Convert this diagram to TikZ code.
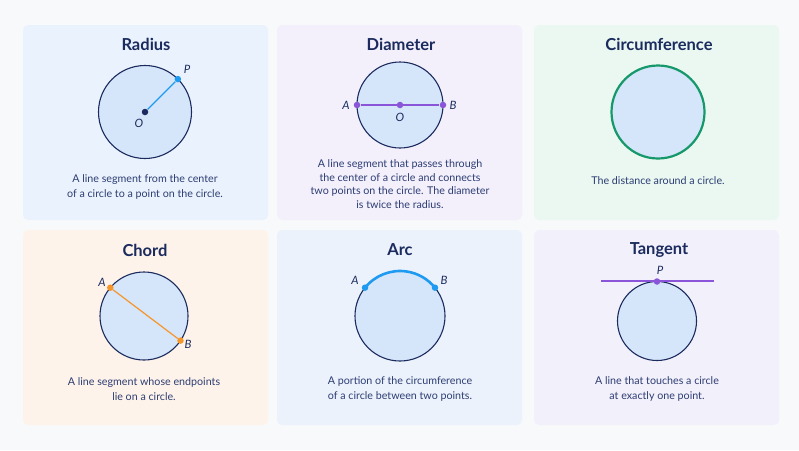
\documentclass[tikz,border=0pt]{standalone}
\usepackage{fontspec}
\setmainfont{Lato}
\usepackage{tikz}
\usetikzlibrary{positioning}

\definecolor{pagebg}{HTML}{F8F9FB}
\definecolor{cardA}{HTML}{EAF3FD}
\definecolor{cardB}{HTML}{F3F0FC}
\definecolor{cardC}{HTML}{EAF8F1}
\definecolor{cardD}{HTML}{FDF3EA}
\definecolor{cardE}{HTML}{EBF2FC}
\definecolor{cardF}{HTML}{F2F0FB}
\definecolor{discfill}{HTML}{D6E6FA}
\definecolor{navy}{HTML}{1B2B5E}
\definecolor{ink}{HTML}{2D3D73}
\definecolor{skyblue}{HTML}{1E9BF0}
\definecolor{violet}{HTML}{8A55D8}
\definecolor{orange}{HTML}{F5952A}
\definecolor{mint}{HTML}{16996A}

\begin{document}
\begin{tikzpicture}[x=1pt, y=-1pt, semithick,
    title/.style={font=\fontsize{16.5}{20}\selectfont\bfseries, text=navy},
    desc/.style={font=\fontsize{10.7}{15}\selectfont, text=ink, align=center},
    disc/.style={circle, draw=navy, fill=discfill, line width=1.1pt, inner sep=0pt, outer sep=0pt},
    dot/.style={circle, fill=#1, inner sep=0pt, minimum size=6.5pt},
    lbl/.style={font=\fontsize{11.5}{13}\selectfont\itshape, text=navy, inner sep=1pt}]
    	\fill[pagebg] (0,0) rectangle (799,450);
    	\foreach \x/\y/\c in {23/25/cardA, 277/25/cardB, 534/25/cardC, 23/230/cardD, 277/230/cardE, 534/230/cardF}
    		\fill[\c, rounded corners=5pt] (\x,\y) rectangle ++(245,195);

    	% radius
    	\node[title] (hRad) at (146,44) {Radius};
    	\node[disc, minimum size=93pt] (c1) at (145,112) {};
    	\node[dot=navy] (O1) at (c1.center) {};
    	\node[dot=skyblue] (P1) at (c1.45) {};
    	\draw[skyblue, line width=1.2pt] (O1) -- (P1);
    	\node[lbl] (lO1) at (139,123) {O};
    	\node[lbl] (lP1) at (187,69) {P};
    	\node[desc] (dRad) at (145,187) {A line segment from the center\\of a circle to a point on the circle.};

    	% diameter
    	\node[title] (hDia) at (401,44) {Diameter};
    	\node[disc, minimum size=86pt] (c2) at (400,105) {};
    	\node[dot=violet] (A2) at (c2.west) {};
    	\node[dot=violet] (B2) at (c2.east) {};
    	\draw[violet, line width=1.4pt] (A2) -- (B2);
    	\node[dot=violet] (O2) at (c2.center) {};
    	\node[lbl] (lA2) at (346,105) {A};
    	\node[lbl] (lB2) at (453,105) {B};
    	\node[lbl] (lO2) at (400,117) {O};
    	\node[desc, font=\fontsize{10.7}{13.5}\selectfont] (dDia) at (400,184) {A line segment that passes through\\the center of a circle and connects\\two points on the circle. The diameter\\is twice the radius.};

    	% circumference
    	\node[title] (hCir) at (659,44) {Circumference};
    	\node[disc, draw=mint, line width=2.2pt, minimum size=93pt] (c3) at (658,112) {};
    	\node[desc] (dCir) at (658,181) {The distance around a circle.};

    	% chord
    	\node[title] (hCho) at (145,250) {Chord};
    	\node[disc, minimum size=88pt] (c4) at (144,316) {};
    	\node[dot=orange] (A4) at (c4.140) {};
    	\node[dot=orange] (B4) at (c4.-34) {};
    	\draw[orange, line width=1.2pt] (A4) -- (B4);
    	\node[lbl] (lA4) at (102,282) {A};
    	\node[lbl] (lB4) at (188,344) {B};
    	\node[desc] (dCho) at (144,389) {A line segment whose endpoints\\lie on a circle.};

    	% arc
    	\node[title] (hArc) at (400,250) {Arc};
    	\node[disc, minimum size=90pt] (c5) at (400,316) {};
    	\draw[skyblue, line width=2.6pt] (c5.141) arc[start angle=141, end angle=39, radius=45pt];
    	\node[dot=skyblue] (A5) at (c5.141) {};
    	\node[dot=skyblue] (B5) at (c5.39) {};
    	\node[lbl] (lA5) at (355,280) {A};
    	\node[lbl] (lB5) at (444,280) {B};
    	\node[desc] (dArc) at (400,389) {A portion of the circumference\\of a circle between two points.};

    	% tangent
    	\node[title] (hTan) at (659,250) {Tangent};
    	\node[disc, minimum size=79pt] (c6) at (657,321) {};
    	\coordinate (t1) at (601,281);
    	\coordinate (t2) at (714,281);
    	\draw[violet, line width=1.2pt] (t1) -- (t2);
    	\node[dot=violet] (P6) at (c6.north) {};
    	\node[lbl] (lP6) at (660,270) {P};
    	\node[desc] (dTan) at (657,389) {A line that touches a circle\\at exactly one point.};
    \end{tikzpicture}
\end{document}
